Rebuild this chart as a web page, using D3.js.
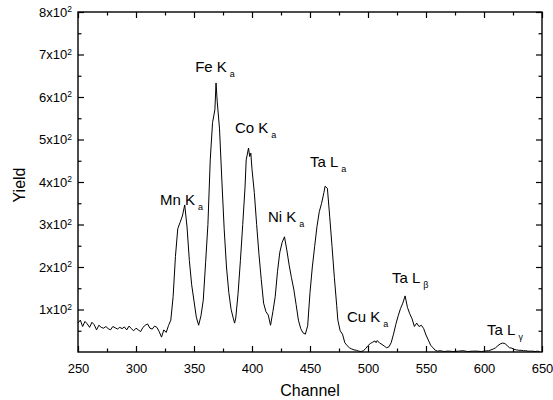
<!DOCTYPE html>
<html>
<head>
<meta charset="utf-8">
<script src="https://cdn.jsdelivr.net/npm/d3@7/dist/d3.min.js"></script>
<style>
html,body{margin:0;padding:0;background:#fff;}
svg{display:block;}
text{font-family:"Liberation Sans",Arial,Helvetica,sans-serif;fill:#000;}
</style>
</head>
<body>
<svg id="chart" width="553" height="400"></svg>
<script>
// ---- data ----
const channels = [
 250,252,254,256,258,260,262,264,266,268,270,272,274,276,278,280,282,284,286,288,
 290,292,294,296,298,300,302,304,306,308,310,312,314,316,318,320,322,324,326,328,
 330,332,334,336,338,340,342,344,346,348,350,352,354,356,
 358,360,362,364,366,368,369,370,372,374,376,378,380,382,384,385,386,
 388,390,392,394,395,397,398,399,400,402,404,406,408,410,412,414,416,
 418,420,422,424,426,428,430,432,434,436,438,440,442,444,446,
 448,450,452,454,456,458,460,462,463,465,467,469,471,473,474,476,478,480,482,484,486,488,490,492,494,496,498,
 500,502,504,506,507,508,510,512,514,516,518,520,522,524,526,528,530,532,534,536,538,540,542,544,546,548,
 550,552,554,556,558,560,562,564,566,568,570,574,578,582,586,590,594,598,
 600,604,606,608,610,612,614,616,618,620,622,624,626,628,630,632,634,636,638,640,642,644,646,648
];
const yieldValues = [
 68,75,60,72,66,58,70,64,52,63,58,56,60,55,52,60,57,54,58,55,
 59,52,61,55,50,56,52,48,58,63,66,56,54,61,58,48,35,52,46,62,
 75,130,225,290,305,320,346,294,215,158,120,82,63,85,
 122,210,300,452,540,570,633,590,525,405,290,200,140,100,78,68,80,
 138,215,300,388,452,480,460,468,430,375,300,230,170,115,95,87,63,
 95,130,190,235,258,271,240,205,175,148,112,75,55,45,42,
 62,140,200,248,295,330,350,375,390,385,318,248,175,110,75,50,42,22,15,10,7,5,4,2,1,3,8,
 15,20,23,26,22,27,21,18,14,10,12,22,42,65,85,102,115,132,105,90,78,60,68,60,63,55,
 40,28,16,10,4,2,3,2,1,2,2,1,2,3,1,2,2,1,
 2,3,5,7,10,15,19,21,20,15,10,9,6,5,4,4,3,3,2,2,2,1,2,1
];
const xTickValues = [250,300,350,400,450,500,550,600,650];
const yTickValues = [100,200,300,400,500,600,700,800];
const yTickMantissa = ["1","2","3","4","5","6","7","8"];
const peakNames = ["Fe K","Co K","Mn K","Ni K","Ta L","Cu K","Ta L","Ta L"];
const peakSubs  = ["a","a","a","a","a","a","β","γ"];
const peakChannel = [351,385.3,320.7,413.8,450,481.9,520.7,602.6];
const peakYield   = [659,515,346,306,435,71,162,40];

// ---- layout ----
const svg = d3.select("#chart");
const L = 78, R = 542, T = 12, B = 352;
const x = d3.scaleLinear().domain([250,650]).range([L,R]);
const y = d3.scaleLinear().domain([0,800]).range([B,T]);

// frame
svg.append("rect").attr("x",L).attr("y",T).attr("width",R-L).attr("height",B-T)
  .attr("fill","none").attr("stroke","#000").attr("stroke-width",1.4);

const minorX = d3.range(275,650,50);
const minorY = d3.range(50,800,100);

function styleAxis(g){
  g.select(".domain").remove();
  g.selectAll(".tick line").attr("stroke","#000").attr("stroke-width",1.2);
}

// bottom major
svg.append("g").attr("transform",`translate(0,${B})`)
  .call(d3.axisBottom(x).tickValues(xTickValues).tickSizeInner(-6).tickSizeOuter(0).tickPadding(12).tickFormat(d3.format("d")))
  .call(styleAxis)
  .call(g=>g.selectAll(".tick text").attr("font-size",13).attr("font-family","Liberation Sans, Arial, sans-serif").attr("fill","#000"));
svg.append("g").attr("transform",`translate(0,${B})`)
  .call(d3.axisBottom(x).tickValues(minorX).tickSizeInner(-3.5).tickSizeOuter(0).tickFormat(""))
  .call(styleAxis);
// top
svg.append("g").attr("transform",`translate(0,${T})`)
  .call(d3.axisTop(x).tickValues(xTickValues).tickSizeInner(-6).tickSizeOuter(0).tickFormat(""))
  .call(styleAxis);
svg.append("g").attr("transform",`translate(0,${T})`)
  .call(d3.axisTop(x).tickValues(minorX).tickSizeInner(-3.5).tickSizeOuter(0).tickFormat(""))
  .call(styleAxis);
// left
svg.append("g").attr("transform",`translate(${L},0)`)
  .call(d3.axisLeft(y).tickValues(yTickValues).tickSizeInner(-6).tickSizeOuter(0).tickPadding(6).tickFormat(""))
  .call(styleAxis)
  .call(g=>{
    g.selectAll(".tick text").each(function(d,i){
      const t = d3.select(this).attr("font-size",13).attr("dy","0.32em").attr("x",-6).attr("fill","#000")
        .attr("font-family","Liberation Sans, Arial, sans-serif").attr("text-anchor","end");
      t.text(null);
      t.append("tspan").text(yTickMantissa[i] + "x10");
      t.append("tspan").attr("font-size",8.5).attr("dy","-0.55em").text("2");
    });
  });
svg.append("g").attr("transform",`translate(${L},0)`)
  .call(d3.axisLeft(y).tickValues(minorY).tickSizeInner(-3.5).tickSizeOuter(0).tickFormat(""))
  .call(styleAxis);
// right
svg.append("g").attr("transform",`translate(${R},0)`)
  .call(d3.axisRight(y).tickValues(yTickValues).tickSizeInner(-6).tickSizeOuter(0).tickFormat(""))
  .call(styleAxis);
svg.append("g").attr("transform",`translate(${R},0)`)
  .call(d3.axisRight(y).tickValues(minorY).tickSizeInner(-3.5).tickSizeOuter(0).tickFormat(""))
  .call(styleAxis);

// axis titles
svg.append("text").attr("x",(L+R)/2).attr("y",396).attr("text-anchor","middle")
  .attr("font-size",16).text("Channel");
svg.append("text").attr("transform","translate(25,185) rotate(-90)").attr("text-anchor","middle")
  .attr("font-size",16).text("Yield");

// spectrum
const pts = channels.map((c,i)=>[c,yieldValues[i]]);
svg.append("path").datum(pts)
  .attr("fill","none").attr("stroke","#000").attr("stroke-width",1).attr("stroke-linejoin","round")
  .attr("d", d3.line().x(d=>x(d[0])).y(d=>y(d[1])));

// peak labels
peakNames.forEach((n,i)=>{
  const t = svg.append("text").attr("x",x(peakChannel[i])).attr("y",y(peakYield[i]))
    .attr("font-size",15);
  t.append("tspan").text(n);
  t.append("tspan").attr("font-size",9).attr("dx",3).attr("dy",5).text(peakSubs[i]);
});
</script>
</body>
</html>
